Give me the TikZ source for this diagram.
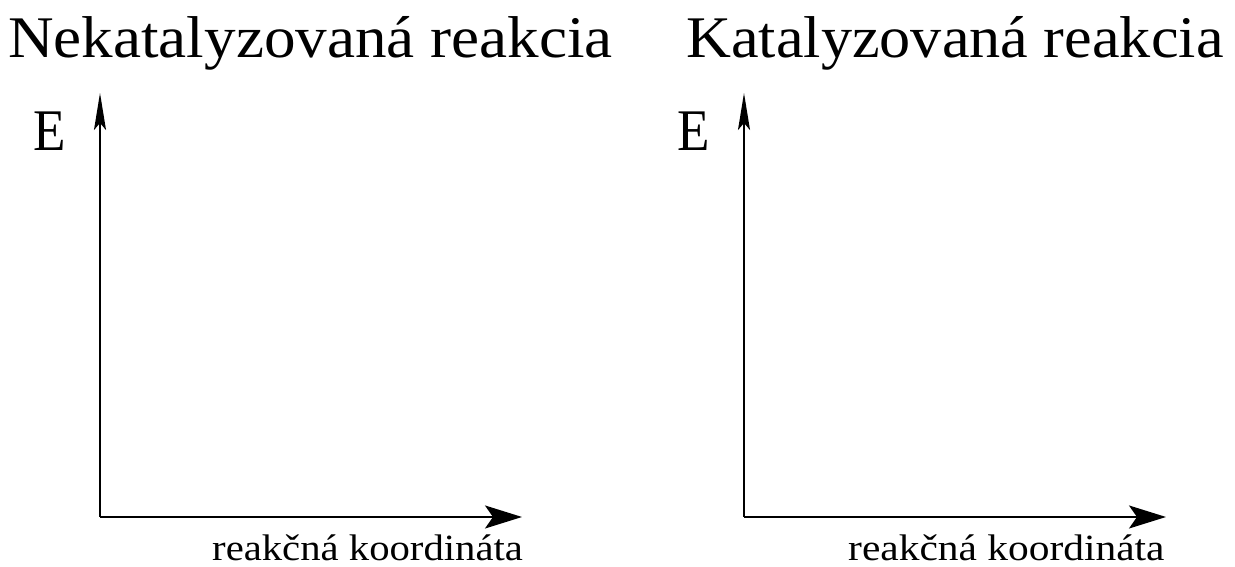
\documentclass[tikz,border=0pt]{standalone}
\usepackage{fontspec}
\setmainfont{Liberation Serif}
\usetikzlibrary{arrows.meta}
\begin{document}
\begin{tikzpicture}[x=1pt,y=1pt,
  yaxis/.style={line width=2pt,-{Stealth[length=37pt,width=12pt,inset=7pt]}},
  xaxis/.style={line width=2pt,-{Stealth[length=37pt,width=23pt,inset=8pt]}},
  title/.style={anchor=base west,inner sep=0pt,font=\fontsize{59}{60}\selectfont},
  elabel/.style={anchor=base west,inner sep=0pt,font=\fontsize{59}{60}\selectfont},
  xlabel/.style={anchor=base west,inner sep=0pt,font=\fontsize{37}{38}\selectfont}]
\useasboundingbox (0,0) rectangle (1235,567);
% left panel
\node[title] (t1) at (8,509) {\scalebox{1.07}[1]{Nekatalyzovaná reakcia}};
\coordinate (o1) at (100,50);
\coordinate (y1) at (100,474);
\coordinate (x1) at (522,50);
\draw[yaxis] (o1) -- (y1);
\draw[xaxis] (o1) -- (x1);
\node[elabel] (e1) at (33,416) {\scalebox{0.9}[1]{E}};
\node[xlabel] (l1) at (212,6) {\scalebox{1.1}[1]{reakčná koordináta}};
% right panel
\node[title] (t2) at (686,509) {\scalebox{1.055}[1]{Katalyzovaná reakcia}};
\coordinate (o2) at (744,50);
\coordinate (y2) at (744,474);
\coordinate (x2) at (1166,50);
\draw[yaxis] (o2) -- (y2);
\draw[xaxis] (o2) -- (x2);
\node[elabel] (e2) at (677,416) {\scalebox{0.9}[1]{E}};
\node[xlabel] (l2) at (848,6) {\scalebox{1.12}[1]{reakčná koordináta}};
\end{tikzpicture}
\end{document}
